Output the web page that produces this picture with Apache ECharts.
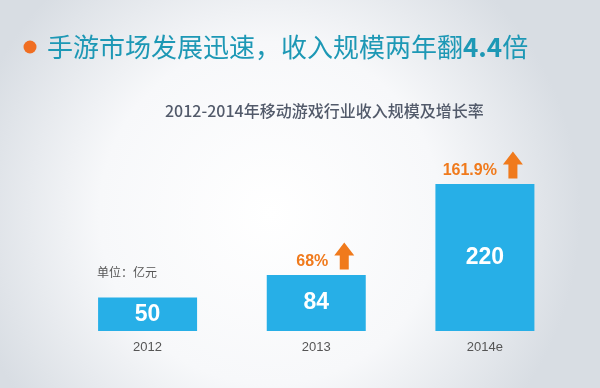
<!DOCTYPE html>
<html>
<head>
<meta charset="utf-8">
<script src="https://cdn.jsdelivr.net/npm/echarts@6/dist/echarts.min.js"></script>
<style>
html,body{margin:0;padding:0;}
#main{width:600px;height:388px;}
</style>
</head>
<body>
<div id="main"></div>
<script>
const categories = ['2012', '2013', '2014e'];
const revenue = [50, 84, 220];
const growth = [null, 68, 161.9];
const headlineA = '手游市场发展迅速，收入规模两年翻';
const headlineNum = '4.4';
const headlineB = '倍';
const subtitle = '2012-2014年移动游戏行业收入规模及增长率';
const unitText = '单位：亿元';

const BLUE = '#27afe7';
const ORANGE = '#f07a1c';
const TEAL = '#1d98b5';
const arrowPath = 'path://M10,0 L20,13 L14.5,13 L14.5,27 L5.5,27 L5.5,13 L0,13 Z';
const numFont = '"Liberation Sans Narrow", "Liberation Sans", Arial, sans-serif';

const chart = echarts.init(document.getElementById('main'));
chart.setOption({
  backgroundColor: {
    type: 'radial', x: 0.45, y: 0.55, r: 0.8,
    colorStops: [
      {offset: 0, color: '#ffffff'},
      {offset: 0.55, color: '#f7f8fa'},
      {offset: 1, color: '#d8dde3'}
    ]
  },
  title: [
    {
      text: headlineA + '{b|' + headlineNum + '}' + headlineB, left: 47, top: 34, padding: 0,
      textStyle: {
        fontFamily: 'Noto Sans CJK SC', fontSize: 26, fontWeight: 'normal', color: TEAL, lineHeight: 26,
        rich: {b: {fontFamily: 'Noto Sans CJK SC', fontSize: 26, fontWeight: 'bold', color: TEAL, lineHeight: 26}}
      }
    },
    {
      text: subtitle, left: 165, top: 103, padding: 0,
      textStyle: {fontFamily: 'Noto Sans CJK SC', fontSize: 16, fontWeight: 500, color: '#525a6a', lineHeight: 16}
    }
  ],
  graphic: [
    {type: 'circle', shape: {cx: 30, cy: 47, r: 6.5}, style: {fill: '#f06e22'}},
    {type: 'text', left: 97, top: 266, style: {text: unitText, font: '12px "Noto Sans CJK SC"', fill: '#555555'}}
  ],
  grid: {left: 63.25, right: 30.75, top: 164, bottom: 57},
  xAxis: {
    type: 'category', data: categories,
    axisLine: {show: false}, axisTick: {show: false},
    axisLabel: {margin: 10, fontSize: 13, color: '#555555', fontFamily: 'Liberation Sans'}
  },
  yAxis: {
    type: 'value', min: 0, max: 250, show: false,
    splitLine: {show: false}
  },
  series: [
    {
      type: 'bar', data: revenue, barWidth: 99,
      itemStyle: {color: BLUE},
      label: {
        show: true, position: 'inside', color: '#ffffff',
        fontFamily: numFont, fontWeight: 'bold', fontSize: 23
      },
      silent: true
    },
    {
      type: 'scatter',
      data: revenue.map((v, i) => growth[i] == null ? '-' : v),
      symbol: arrowPath, symbolSize: [20, 27], symbolOffset: [28, -19],
      itemStyle: {color: ORANGE, opacity: 1},
      label: {
        show: true, position: 'left', distance: 6, offset: [0, 6],
        formatter: p => growth[p.dataIndex] + '%',
        color: ORANGE, fontWeight: 'bold', fontSize: 16,
        fontFamily: numFont
      },
      silent: true, z: 5
    }
  ]
});
</script>
</body>
</html>
